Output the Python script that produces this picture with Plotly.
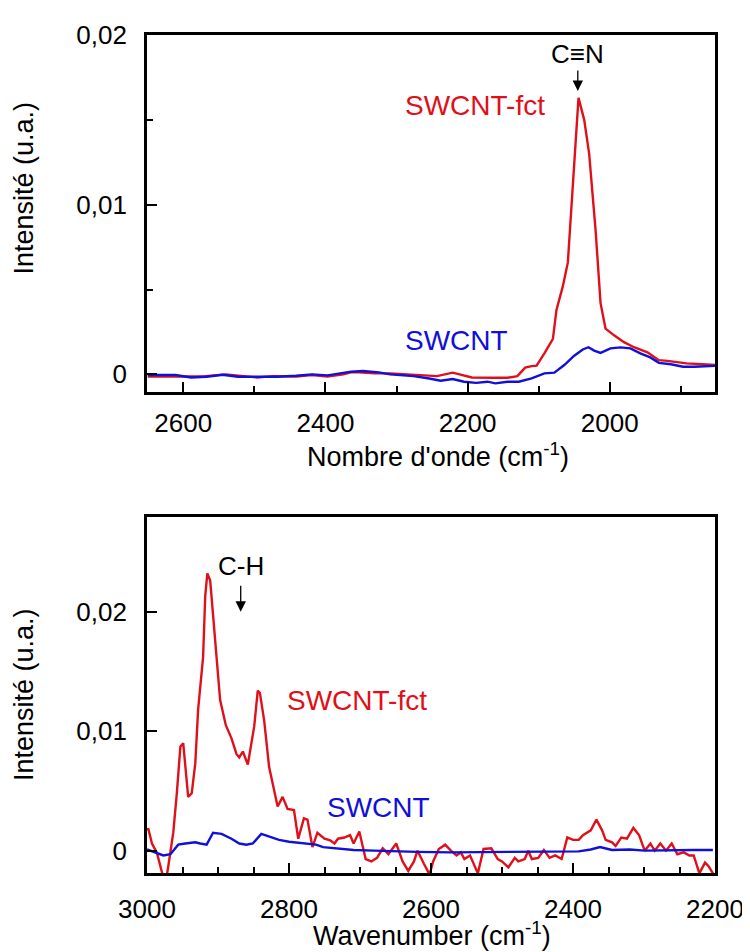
import plotly.graph_objects as go

# ---------------- data ----------------
# Top panel: C≡N region (wavenumber cm-1 -> intensity)
top_red_x = [2650, 2627, 2600, 2573, 2540, 2518, 2496, 2474, 2441, 2419, 2397, 2375, 2364, 2353,
             2331, 2309, 2287, 2265, 2243, 2221, 2210, 2194, 2166, 2144, 2130, 2119, 2110, 2103,
             2092, 2080, 2075, 2066, 2059, 2052, 2044, 2036, 2029, 2020, 2013, 2006, 1994, 1980,
             1966, 1947, 1931, 1919, 1903, 1892, 1870, 1853, 1852]
top_red_y = [-0.00012, -0.00012, -0.0001, -0.00012, 0.0, -0.0001, -0.00018, -0.0001, -0.00012,
             -0.00004, -0.00012, 0.0, 0.00012, 0.00012, 0.00006, 0.00006, 0.0, -0.00004, -0.0001,
             0.0001, 0.0, -0.00018, -0.0002, -0.0002, -0.0001, 0.0004, 0.00049, 0.00052, 0.00124,
             0.0021, 0.0038, 0.0052, 0.0066, 0.0114, 0.0163, 0.0150, 0.0130, 0.0085, 0.0042,
             0.0027, 0.0023, 0.0019, 0.0016, 0.0013, 0.00084, 0.0008, 0.0007, 0.00065, 0.0006,
             0.00055, 0.00055]

top_blue_x = [2650, 2630, 2611, 2589, 2567, 2545, 2523, 2496, 2468, 2441, 2419, 2397, 2375, 2364,
              2347, 2325, 2309, 2276, 2254, 2238, 2221, 2205, 2188, 2172, 2161, 2144, 2128, 2110,
              2092, 2078, 2064, 2050, 2038, 2030, 2022, 2013, 1999, 1985, 1971, 1957, 1943, 1931,
              1914, 1897, 1881, 1864, 1852]
top_blue_y = [-0.00004, -0.00004, -0.00004, -0.00018, -0.00014, -0.00002, -0.00014, -0.00014,
              -0.00014, -0.00008, 0.0, -0.00006, 0.00006, 0.00016, 0.0002, 0.00012, 0.0, -0.0001,
              -0.00024, -0.00037, -0.00027, -0.00043, -0.0005, -0.00043, -0.00053, -0.00043,
              -0.00043, -0.00024, 0.00006, 0.0001, 0.00055, 0.0011, 0.00147, 0.0016, 0.0014,
              0.00127, 0.00153, 0.00159, 0.00153, 0.00124, 0.001, 0.00068, 0.0006, 0.00045,
              0.00045, 0.0005, 0.0005]

# Bottom panel: C-H region
bot_red_x = [3000, 2998, 2993, 2986, 2979, 2974, 2970, 2963, 2958, 2953, 2949, 2942, 2937, 2932,
             2928, 2921, 2918, 2915, 2911, 2904, 2897, 2889, 2881, 2874, 2870, 2865, 2858, 2849,
             2844, 2841, 2835, 2828, 2821, 2816, 2809, 2802, 2793, 2787, 2779, 2774, 2767, 2760,
             2750, 2742, 2736, 2731, 2722, 2714, 2709, 2701, 2692, 2684, 2676, 2668, 2660, 2649,
             2640, 2632, 2624, 2619, 2610, 2602, 2597, 2589, 2580, 2572, 2564, 2558, 2553, 2545,
             2534, 2526, 2515, 2506, 2500, 2491, 2482, 2477, 2468, 2463, 2458, 2449, 2441, 2433,
             2425, 2416, 2408, 2400, 2392, 2386, 2375, 2367, 2359, 2354, 2345, 2340, 2332, 2324,
             2315, 2307, 2299, 2291, 2285, 2277, 2269, 2261, 2253, 2244, 2236, 2230, 2222, 2214,
             2209, 2202, 2200]
bot_red_y = [0.0018, 0.0018, 0.0006, -0.0002, -0.0018, -0.0028, -0.0013, 0.0015, 0.0048, 0.0087,
             0.009, 0.0045, 0.0048, 0.0073, 0.0118, 0.0162, 0.0213, 0.0232, 0.0226, 0.0179, 0.0126,
             0.0105, 0.0094, 0.0081, 0.0078, 0.0083, 0.0072, 0.0104, 0.0134, 0.0132, 0.0109,
             0.007, 0.0051, 0.0037, 0.0045, 0.0035, 0.0034, 0.001, 0.0027, 0.0026, 0.0003, 0.0015,
             0.001, 0.00086, 0.0006, 0.001, 0.0011, 0.0013, 0.0006, 0.0016, -0.0007, -0.0009,
             -0.0006, 0.0002, -0.0003, 0.0006, -0.0009, -0.0017, -0.0009, 0.0, -0.0011, -0.002,
             -0.0009, 0.00014, 0.0005, 0.0, -0.0004, -0.00014, -0.0007, -0.0004, -0.0019, 0.00014,
             0.0002, -0.0007, -0.0009, -0.0014, -0.0006, -0.0009, -0.0007, 0.0, -0.0007, -0.0006,
             0.00006, -0.0006, -0.0004, -0.0007, 0.0011, 0.0009, 0.0009, 0.0013, 0.0017, 0.0026,
             0.0017, 0.0009, 0.0007, 0.0004, 0.0011, 0.001, 0.0019, 0.0013, 0.0, 0.0006, 0.0,
             0.0006, 0.0, 0.0006, -0.0003, -0.00014, -0.0004, -0.0004, -0.0019, -0.001, -0.0013,
             -0.002, -0.0024]

bot_blue_x = [3000, 2998, 2988, 2977, 2967, 2956, 2946, 2932, 2925, 2916, 2907, 2895, 2881, 2870,
              2860, 2851, 2839, 2828, 2814, 2800, 2781, 2762, 2752, 2730, 2709, 2680, 2654, 2620,
              2572, 2520, 2463, 2430, 2392, 2375, 2362, 2345, 2320, 2299, 2260, 2230, 2203]
bot_blue_y = [0.0001, 0.00006, -0.0002, -0.0004, -0.0003, 0.0005, 0.0006, 0.0007, 0.0006, 0.0005,
              0.0015, 0.0014, 0.001, 0.0006, 0.0005, 0.0006, 0.0014, 0.0012, 0.0009, 0.00075,
              0.0006, 0.0005, 0.0003, 0.0002, 0.00006, 0.0, -0.00006, -0.0001, -0.00014, -0.0001,
              -0.00006, -0.00006, -0.00006, 0.0001, 0.0003, 0.00006, 0.0001, 0.0, 0.00006,
              0.00006, 0.00006]

# Tick labels
top_xtick_vals = [2600, 2400, 2200, 2000]
top_xtick_text = ["2600", "2400", "2200", "2000"]
top_ytick_vals = [0, 0.01, 0.02]
top_ytick_text = ["0", "0,01", "0,02"]
bot_xtick_vals = [3000, 2800, 2600, 2400, 2200]
bot_xtick_text = ["3000", "2800", "2600", "2400", "2200"]
bot_ytick_vals = [0, 0.01, 0.02]
bot_ytick_text = ["0", "0,01", "0,02"]

# ---------------- figure ----------------
FONT = "Liberation Sans, Arial, sans-serif"
RED = "#e0101a"
BLUE = "#1010da"
OX, OY = 8, 8            # page body margin of the browser
W, H = 750 - OX, 952 - OY


def px(xp):
    return (xp - OX) / W


def py(yp):
    return 1 - (yp - OY) / H


fig = go.Figure()
fig.add_trace(go.Scatter(x=top_red_x, y=top_red_y, mode="lines", name="SWCNT-fct",
                         line=dict(color=RED, width=2.4), xaxis="x", yaxis="y", showlegend=False))
fig.add_trace(go.Scatter(x=top_blue_x, y=top_blue_y, mode="lines", name="SWCNT",
                         line=dict(color=BLUE, width=2.4), xaxis="x", yaxis="y", showlegend=False))
fig.add_trace(go.Scatter(x=bot_red_x, y=bot_red_y, mode="lines", name="SWCNT-fct",
                         line=dict(color=RED, width=2.4), xaxis="x2", yaxis="y2", showlegend=False))
fig.add_trace(go.Scatter(x=bot_blue_x, y=bot_blue_y, mode="lines", name="SWCNT",
                         line=dict(color=BLUE, width=2.4), xaxis="x2", yaxis="y2", showlegend=False))

common = dict(showline=True, linecolor="black", linewidth=2.7, mirror=True, ticks="inside",
              tickcolor="black", tickwidth=2, ticklen=10, showgrid=False, zeroline=False,
              tickmode="array", automargin=False,
              tickfont=dict(family=FONT, size=26, color="black"))

xdom = [px(147), px(715)]
top_dom = [py(391.7), py(35)]
bot_dom = [py(873), py(516.7)]

fig.update_layout(
    width=W, height=H, margin=dict(l=0, r=0, t=0, b=0, pad=0),
    plot_bgcolor="white", paper_bgcolor="white",
    font=dict(family=FONT, color="black"),
    xaxis=dict(domain=xdom, anchor="y", range=[2651, 1852],
               tickvals=top_xtick_vals, ticktext=top_xtick_text, ticklabelstandoff=6,
               minor=dict(tickmode="linear", tick0=2000, dtick=100, ticks="inside", ticklen=6,
                          tickwidth=2, tickcolor="black", showgrid=False),
               **common),
    yaxis=dict(domain=top_dom, anchor="x", range=[-0.00102, 0.02],
               tickvals=top_ytick_vals, ticktext=top_ytick_text, ticklabelstandoff=12,
               minor=dict(tickmode="linear", tick0=0, dtick=0.005, ticks="inside", ticklen=6,
                          tickwidth=2, tickcolor="black", showgrid=False),
               **common),
    xaxis2=dict(domain=xdom, anchor="y2", range=[3000, 2200],
                tickvals=bot_xtick_vals, ticktext=bot_xtick_text, ticklabelstandoff=11,
                minor=dict(tickmode="linear", tick0=2200, dtick=50, ticks="inside", ticklen=6,
                           tickwidth=2, tickcolor="black", showgrid=False),
                **common),
    yaxis2=dict(domain=bot_dom, anchor="x2", range=[-0.00187, 0.02795],
                tickvals=bot_ytick_vals, ticktext=bot_ytick_text, ticklabelstandoff=12,
                **common),
)

title_font = dict(family=FONT, size=27, color="black")
annotations = [
    # axis titles
    dict(text="Intensité (u.a.)", xref="paper", yref="paper", x=px(24), y=py(188.5),
         textangle=-90, showarrow=False, font=title_font, xanchor="center", yanchor="middle"),
    dict(text="Intensité (u.a.)", xref="paper", yref="paper", x=px(24), y=py(695),
         textangle=-90, showarrow=False, font=title_font, xanchor="center", yanchor="middle"),
    dict(text="Nombre d'onde (cm<sup>-1</sup>)", xref="paper", yref="paper", x=px(438),
         y=py(455), showarrow=False, font=title_font, xanchor="center", yanchor="middle"),
    dict(text="Wavenumber (cm<sup>-1</sup>)", xref="paper", yref="paper", x=px(432),
         y=py(934), showarrow=False, font=title_font, xanchor="center", yanchor="middle"),
    # top panel labels (label text sits at the arrow tail, arrow head points at the band)
    dict(text="C≡N", x=2045, y=0.0167, xref="x", yref="y", ax=2045, ay=0.01888,
         axref="x", ayref="y", showarrow=True, arrowhead=2, arrowsize=1.6, arrowwidth=1.3,
         arrowcolor="black", standoff=0, startstandoff=0,
         font=dict(family=FONT, size=26, color="black")),
    dict(text="SWCNT-fct", x=2189, y=0.01584, xref="x", yref="y", showarrow=False,
         font=dict(family=FONT, size=28, color=RED)),
    dict(text="SWCNT", x=2215, y=0.002, xref="x", yref="y", showarrow=False,
         font=dict(family=FONT, size=28, color=BLUE)),
    # bottom panel labels
    dict(text="C-H", x=2868, y=0.0200, xref="x2", yref="y2", ax=2868, ay=0.0238,
         axref="x2", ayref="y2", showarrow=True, arrowhead=2, arrowsize=1.6, arrowwidth=1.3,
         arrowcolor="black", standoff=0, startstandoff=3,
         font=dict(family=FONT, size=26, color="black")),
    dict(text="SWCNT-fct", x=2704, y=0.0126, xref="x2", yref="y2", showarrow=False,
         font=dict(family=FONT, size=28, color=RED)),
    dict(text="SWCNT", x=2674, y=0.0036, xref="x2", yref="y2", showarrow=False,
         font=dict(family=FONT, size=28, color=BLUE)),
]
fig.update_layout(annotations=annotations)

fig.write_html("out.html")
